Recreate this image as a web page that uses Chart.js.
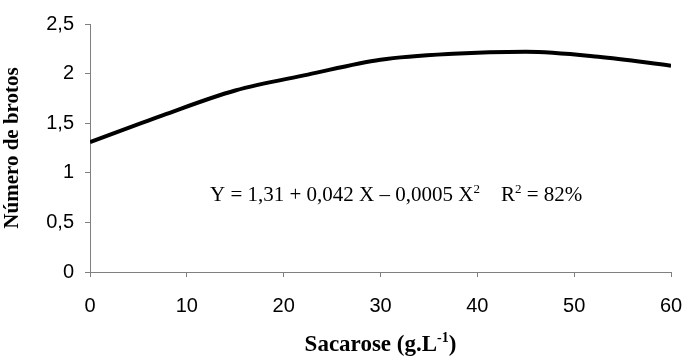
<!DOCTYPE html>
<html>
<head>
<meta charset="utf-8">
<script src="https://cdn.jsdelivr.net/npm/chart.js@4"></script>
<style>
    html, body { margin: 0; padding: 0; background: #fff; }
    #wrap { width: 686px; height: 356px; position: relative; }
</style>
</head>
<body>
<div id="wrap"><canvas id="graph"></canvas></div>
<script>
// values
const sacarose = [0, 7.5, 15, 22.5, 30, 37.5, 45, 52.5, 60];
const brotos = [1.31, 1.58, 1.83, 1.99, 2.14, 2.2, 2.22, 2.17, 2.08];
const xTicks = [0, 10, 20, 30, 40, 50, 60];
const yTicks = [0, 0.5, 1, 1.5, 2, 2.5];

const axisGray = '#808080';
const serif = '"Liberation Serif", "Times New Roman", serif';
const sans = '"Liberation Sans", Arial, sans-serif';

// draws superscripted text pieces: [[text, isSup], ...]
function drawPieces(ctx, pieces, x, y, size, weight, align) {
    const supSize = Math.round(size * 0.62);
    let total = 0;
    for (const [t, sup] of pieces) {
        ctx.font = `${weight} ${sup ? supSize : size}px ${serif}`;
        total += ctx.measureText(t).width;
    }
    let cx = align === 'center' ? x - total / 2 : x;
    ctx.textAlign = 'left';
    ctx.textBaseline = 'alphabetic';
    for (const [t, sup] of pieces) {
        ctx.font = `${weight} ${sup ? supSize : size}px ${serif}`;
        ctx.fillText(t, cx, sup ? y - size * 0.38 : y);
        cx += ctx.measureText(t).width;
    }
}

const textPlugin = {
    id: 'extraText',
    afterDraw(chart) {
        const ctx = chart.ctx;
        const area = chart.chartArea;
        ctx.save();
        ctx.fillStyle = '#000';
        // equation
        drawPieces(ctx, [
            ['Y = 1,31 + 0,042 X \u2013 0,0005 X', false], ['2', true],
            ['    R', false], ['2', true], [' = 82%', false]
        ], 210, 201, 21, 'normal', 'left');
        // x axis title
        drawPieces(ctx, [['Sacarose (g.L', false], ['-1', true], [')', false]],
            (area.left + area.right) / 2, 351, 23, 'bold', 'center');
        ctx.restore();
    }
};

new Chart(document.querySelector('#graph').getContext('2d'), {
    type: 'line',
    data: {
        datasets: [{
            data: sacarose.map((x, i) => ({x: x, y: brotos[i]})),
            borderColor: '#000',
            borderWidth: 4,
            pointRadius: 0,
            tension: 0.4,
            cubicInterpolationMode: 'monotone',
            fill: false
        }]
    },
    options: {
        responsive: true,
        maintainAspectRatio: false,
        animation: false,
        layout: { padding: { left: 0, right: 15, top: 24, bottom: 0 } },
        plugins: {
            legend: { display: false },
            tooltip: { enabled: false }
        },
        scales: {
            x: {
                type: 'linear',
                min: 0,
                max: 60,
                afterBuildTicks: (scale) => { scale.ticks = xTicks.map(v => ({value: v})); },
                afterFit: (scale) => {
                    scale.height = 84;
                    scale.paddingLeft = 0;
                    scale.paddingRight = 0;
                },
                border: { color: axisGray, width: 1 },
                grid: { drawOnChartArea: false, drawTicks: true, tickLength: 5, color: axisGray },
                ticks: {
                    color: '#000',
                    padding: 17,
                    maxRotation: 0,
                    font: { family: sans, size: 20 }
                },
                title: { display: false }
            },
            y: {
                min: 0,
                max: 2.5,
                afterBuildTicks: (scale) => { scale.ticks = yTicks.map(v => ({value: v})); },
                afterFit: (scale) => {
                    scale.width = 90;
                    scale.paddingTop = 0;
                    scale.paddingBottom = 0;
                },
                border: { color: axisGray, width: 1 },
                grid: { drawOnChartArea: false, drawTicks: true, tickLength: 5, color: axisGray },
                ticks: {
                    color: '#000',
                    padding: 11,
                    font: { family: sans, size: 20 },
                    callback: (v) => String(v).replace('.', ',')
                },
                title: {
                    display: true,
                    text: 'Número de brotos',
                    color: '#000',
                    padding: { top: 0, bottom: 4 },
                    font: { family: serif, size: 21, weight: 'bold' }
                }
            }
        }
    },
    plugins: [textPlugin]
});
</script>
</body>
</html>
